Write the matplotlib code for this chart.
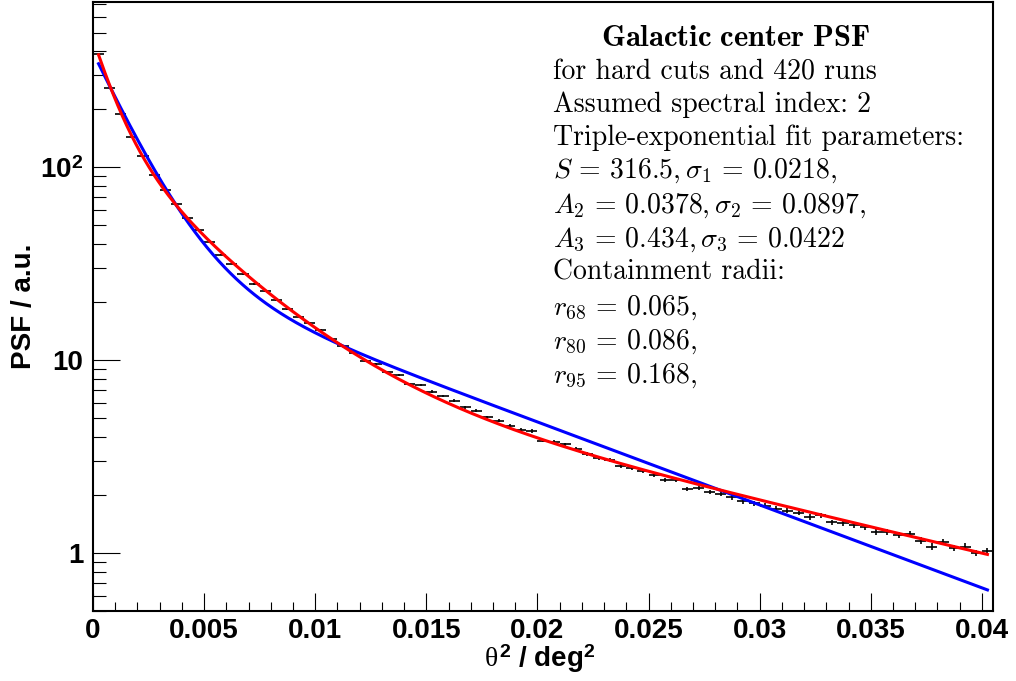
import numpy as np
import matplotlib
matplotlib.use("Agg")
import matplotlib.pyplot as plt
from matplotlib.ticker import MultipleLocator, FixedLocator, FuncFormatter, LogLocator, NullFormatter

# histogram: 81 bins of width 0.0005 deg^2
bin_width = 0.0005
n_bins = 81
theta2 = bin_width * (np.arange(n_bins) + 0.5)

psf = [388, 258, 190, 144, 114, 91.5, 75.9, 64.5, 54.6, 47.1,
       41.0, 35.2, 31.6, 27.9, 24.8, 22.7, 20.4, 18.4, 16.8, 15.6,
       14.4, 12.85, 11.77, 10.87, 9.95, 9.53, 8.66, 8.39, 7.53, 7.44,
       6.87, 6.53, 6.15, 5.70, 5.48, 5.06, 4.86, 4.56, 4.35, 4.29,
       3.82, 3.78, 3.66, 3.45, 3.25, 3.12, 3.04, 2.81, 2.77, 2.67,
       2.54, 2.39, 2.39, 2.15, 2.18, 2.07, 2.02, 1.94, 1.86, 1.81,
       1.76, 1.70, 1.66, 1.62, 1.54, 1.57, 1.44, 1.43, 1.40, 1.36,
       1.29, 1.28, 1.24, 1.25, 1.16, 1.08, 1.14, 1.06, 1.08, 1.00,
       1.02]

psf_err = [0.79, 0.64, 0.55, 0.48, 0.43, 0.38, 0.35, 0.32, 0.30, 0.27,
           0.26, 0.24, 0.22, 0.21, 0.20, 0.19, 0.18, 0.17, 0.16, 0.16,
           0.15, 0.14, 0.14, 0.13, 0.13, 0.12, 0.12, 0.12, 0.11, 0.11,
           0.10, 0.10, 0.10, 0.10, 0.09, 0.09, 0.09, 0.085, 0.083, 0.083,
           0.078, 0.078, 0.077, 0.074, 0.072, 0.071, 0.070, 0.067, 0.067, 0.065,
           0.064, 0.062, 0.062, 0.059, 0.059, 0.058, 0.057, 0.056, 0.055, 0.054,
           0.053, 0.052, 0.052, 0.051, 0.050, 0.050, 0.048, 0.048, 0.047, 0.047,
           0.045, 0.045, 0.045, 0.045, 0.043, 0.042, 0.043, 0.041, 0.042, 0.040,
           0.040]

# triple-exponential fit (red)
S, sigma1 = 316.5, 0.0218
A2, sigma2 = 0.0378, 0.0897
A3, sigma3 = 0.434, 0.0422

# double-exponential comparison (blue)
B1, tau1 = 360.0, 0.0017
B2, tau2 = 34.6, 0.0101

# containment radii
r68, r80, r95 = 0.065, 0.086, 0.168

fit_range = (0.00025, 0.04025)


def triple_exp(x):
    return S * (np.exp(-x / (2 * sigma1**2))
                + A2 * np.exp(-x / (2 * sigma2**2))
                + A3 * np.exp(-x / (2 * sigma3**2)))


def double_exp(x):
    return B1 * np.exp(-x / tau1) + B2 * np.exp(-x / tau2)


plt.rcParams["mathtext.fontset"] = "custom"
plt.rcParams["mathtext.rm"] = "Liberation Sans:bold"
plt.rcParams["mathtext.bf"] = "Liberation Sans:bold"
plt.rcParams["mathtext.it"] = "Liberation Serif"
plt.rcParams["font.family"] = "Liberation Sans"

W, H = 1016, 681
fig = plt.figure(figsize=(W / 100, H / 100), dpi=100)
ax = fig.add_axes([93 / W, 1 - 611 / H, 900 / W, 609 / H])

ax.errorbar(theta2, psf, xerr=bin_width / 2, yerr=psf_err, fmt="none",
            ecolor="black", elinewidth=1.2, capsize=0, zorder=2)

xx = np.linspace(fit_range[0], fit_range[1], 600)
ax.plot(xx, double_exp(xx), color="#0000ff", lw=2.2, zorder=3)
ax.plot(xx, triple_exp(xx), color="#ff0000", lw=2.2, zorder=4)

ax.set_yscale("log")
ax.set_xlim(0, 0.0405)
ax.set_ylim(0.5, 720)

ax.xaxis.set_major_locator(MultipleLocator(0.005))
ax.xaxis.set_minor_locator(MultipleLocator(0.001))
ax.xaxis.set_major_formatter(FuncFormatter(lambda v, p: "%g" % v))

ax.yaxis.set_major_locator(FixedLocator([1, 10, 100]))
ax.yaxis.set_major_formatter(FuncFormatter(
    lambda v, p: {1: "1", 10: "10", 100: r"$10^{2}$"}.get(int(round(v)), "")))
ax.yaxis.set_minor_locator(LogLocator(base=10, subs=np.arange(2, 10)))
ax.yaxis.set_minor_formatter(NullFormatter())

for lab in ax.get_xticklabels() + ax.get_yticklabels():
    lab.set_fontweight("bold")
ax.tick_params(axis="both", which="both", direction="in", width=0.8,
               top=False, right=False, labelsize=20)
ax.tick_params(axis="x", which="major", length=13, pad=5)
ax.tick_params(axis="x", which="minor", length=6.5)
ax.tick_params(axis="y", which="major", length=19.5, pad=7)
ax.tick_params(axis="y", which="minor", length=9.5)
for sp in ax.spines.values():
    sp.set_linewidth(1.5)

fig.text(24 / W, 1 - 306 / H, "PSF / a.u.", rotation=90, ha="center",
         va="center", fontsize=20, fontweight="bold")
fig.text(540 / W, 1 - 667 / H, r"$\theta^{2}$ / deg$^{2}$", ha="center",
         va="baseline", fontsize=20, fontweight="bold")

# fit summary
info_x = 553 / W
fig.text(736 / W, 1 - 46 / H, r"$\mathbf{Galactic\ center\ PSF}$",
         ha="center", va="baseline", fontsize=22, math_fontfamily="cm")
info_lines = [
    (79, "for hard cuts and 420 runs", False),
    (112, "Assumed spectral index: 2", False),
    (145, "Triple-exponential fit parameters:", False),
    (178, r"$S\,=\,%g, \sigma_1\,=\,%g,$" % (S, sigma1), True),
    (213, r"$A_2\,=\,%g, \sigma_2\,=\,%g,$" % (A2, sigma2), True),
    (247, r"$A_3\,=\,%g, \sigma_3\,=\,%g$" % (A3, sigma3), True),
    (280, "Containment radii:", False),
    (315, r"$r_{68}\,=\,%g,$" % r68, True),
    (349, r"$r_{80}\,=\,%g,$" % r80, True),
    (383, r"$r_{95}\,=\,%g,$" % r95, True),
]
for y, txt, is_math in info_lines:
    if is_math:
        fig.text(info_x, 1 - y / H, txt, ha="left", va="baseline",
                 fontsize=20, math_fontfamily="cm")
    else:
        fig.text(info_x, 1 - y / H, txt, ha="left", va="baseline",
                 fontsize=20, family="cmr10")

fig.savefig("out.png", dpi=100)
